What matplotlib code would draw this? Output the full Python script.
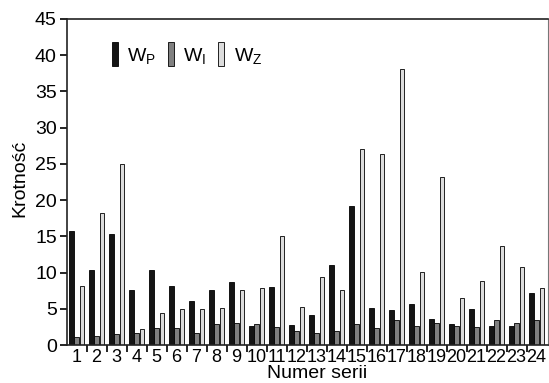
import matplotlib
matplotlib.use("Agg")
import matplotlib.pyplot as plt
import numpy as np

plt.rcParams['font.family'] = ['Liberation Sans', 'DejaVu Sans']
plt.rcParams['mathtext.fontset'] = 'custom'
plt.rcParams['mathtext.rm'] = 'Liberation Sans'

series = [str(i) for i in range(1, 25)]
w_p = [15.8, 10.3, 15.3, 7.6, 10.4, 8.2, 6.05, 7.65, 8.7, 2.6, 8.05, 2.75,
       4.08, 11.0, 19.2, 5.1, 4.8, 5.7, 3.65, 2.9, 4.95, 2.65, 2.65, 7.15]
w_i = [1.05, 1.2, 1.5, 1.7, 2.3, 2.3, 1.7, 2.9, 3.1, 2.9, 2.5, 1.95,
       1.7, 1.88, 2.9, 2.4, 3.5, 2.65, 3.1, 2.6, 2.5, 3.45, 3.1, 3.5]
w_z = [8.1, 18.2, 25.0, 2.15, 4.35, 4.95, 4.95, 5.1, 7.65, 7.9, 15.1, 5.2,
       9.35, 7.65, 27.05, 26.3, 38.05, 10.1, 23.2, 6.55, 8.85, 13.6, 10.7, 7.85]

fig = plt.figure(figsize=(5.49, 3.83), dpi=100)
ax = fig.add_axes([66.5 / 549, 38 / 383, 481.5 / 549, 326 / 383])

x = np.arange(1, 25)
width = 0.24
off = 0.27
ax.bar(x - off, w_p, width, color='#151515', edgecolor='black', linewidth=0.6, label=r'$\mathrm{W_P}$')
ax.bar(x, w_i, width, color='#808080', edgecolor='black', linewidth=0.6, label=r'$\mathrm{W_I}$')
ax.bar(x + off, w_z, width, color='#dcdcdc', edgecolor='black', linewidth=0.6, label=r'$\mathrm{W_Z}$')

ax.set_xlim(0.5, 24.57)
ax.set_ylim(0, 45)
ax.set_yticks(np.arange(0, 46, 5))
ax.set_xticks(x)
ax.set_xticklabels(series)
ax.set_xticks(np.arange(1.5, 24.5, 1), minor=True)
ax.tick_params(axis='x', which='major', length=0, labelsize=13, pad=3)
ax.tick_params(axis='x', which='minor', length=5, width=1.2, direction='out')
ax.tick_params(axis='y', length=5, width=1.2, labelsize=14, pad=2)

for s in ax.spines.values():
    s.set_linewidth(1.2)
    s.set_color('#222222')
ax.spines['right'].set_color('#777777')
ax.spines['right'].set_linewidth(0.8)

ax.set_xlabel('Numer serii', fontsize=14)
ax.xaxis.set_label_coords(0.521, -0.062)
ax.set_ylabel('Krotność', fontsize=14)
ax.yaxis.set_label_coords(-0.08, 0.51)

ax.legend(loc='upper left', bbox_to_anchor=(0.094, 0.928), ncol=3, frameon=False,
          fontsize=14, handlelength=0.3, handleheight=1.5, handletextpad=0.5,
          columnspacing=0.6, borderpad=0, borderaxespad=0)

fig.savefig('out.png', dpi=100)
